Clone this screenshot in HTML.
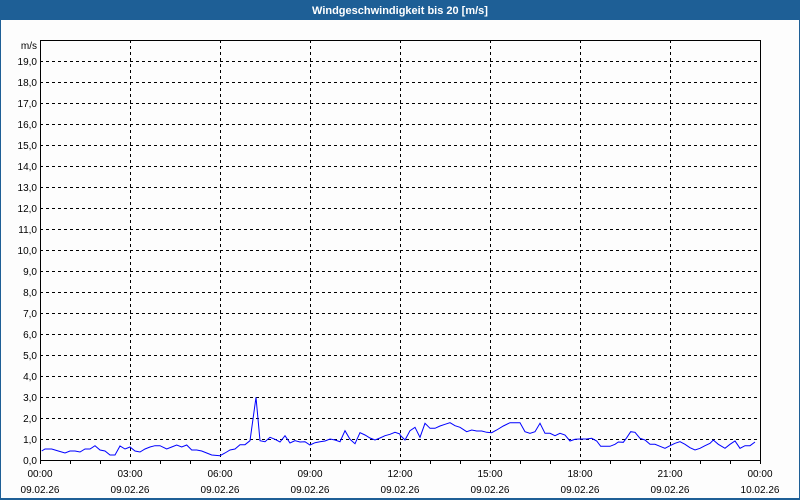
<!DOCTYPE html>
<html><head><meta charset="utf-8"><style>
html,body{margin:0;padding:0;background:#fff}
svg{display:block}
text{font-family:"Liberation Sans","DejaVu Sans",sans-serif;font-size:10px;fill:#000}
</style></head><body>
<svg id="c" width="800" height="500" xmlns="http://www.w3.org/2000/svg">
<rect x="0" y="0" width="800" height="500" fill="#1e5f96"/>
<rect x="1" y="20" width="798" height="478" fill="#fdfdfd"/>
<text x="400" y="14" text-anchor="middle" style="fill:#fff;font-size:11px;font-weight:bold">Windgeschwindigkeit bis 20 [m/s]</text>
<g id="g"></g>
<polyline id="d" fill="none" stroke="#0000ff" stroke-width="1"/>
<rect x="40.5" y="40.5" width="720" height="420" fill="none" stroke="#000"/>
<text x="37" y="49" text-anchor="end">m/s</text>
</svg>
<script>
var g=document.getElementById('g'),ns='http://www.w3.org/2000/svg',h='';
for(var v=0;v<20;v++){var y=460-v*21;
 if(v>0)h+='<line x1="40" x2="760" y1="'+(y+.5)+'" y2="'+(y+.5)+'" stroke="#000" stroke-dasharray="3,3"/>';
 h+='<text x="37" y="'+(y+4)+'" text-anchor="end">'+v+',0</text>';}
var times=['00:00','03:00','06:00','09:00','12:00','15:00','18:00','21:00','00:00'];
for(var i=0;i<=8;i++){var x=40+i*90;
 if(i>0&&i<8)h+='<line x1="'+(x+.5)+'" x2="'+(x+.5)+'" y1="40" y2="460" stroke="#000" stroke-dasharray="3,3"/>';
 h+='<text x="'+x+'" y="477" text-anchor="middle">'+times[i]+'</text>';
 h+='<text x="'+x+'" y="493" text-anchor="middle">'+(i==8?'10.02.26':'09.02.26')+'</text>';}
for(var k=0;k<=24;k++){var x=40+k*30;h+='<line x1="'+(x+.5)+'" x2="'+(x+.5)+'" y1="460" y2="464" stroke="#000"/>';}
g.innerHTML=h;
var a=[[35,213],[45,207],[65,207],[85,213],[105,219],[120,213],[135,213],[150,216],[165,207],[180,207],[195,197],[210,210],[225,213],[240,225],[255,225],[270,198],[285,207],[300,201],[315,213],[330,216],[345,207],[360,201],[375,197],[390,197],[410,207],[425,201],[440,195],[455,201],[470,195],[485,210],[500,210],[515,213],[530,219],[545,225],[570,227],[585,219],[600,210],[615,207],[630,194],[645,194],[660,182],[678,52],[690,182],[705,185],[720,172],[735,178],[750,186],[765,167],[780,189],[795,182],[810,186],[825,185],[840,195],[855,188],[870,185],[885,183],[900,177],[915,180],[930,185],[945,152],[960,178],[975,191],[990,158],[1005,165],[1020,174],[1035,180],[1050,174],[1065,167],[1080,163],[1095,157],[1110,162]];
var b=[[30,165],[45,180],[60,152],[75,142],[90,172],[105,130],[120,145],[135,145],[150,138],[165,133],[180,128],[195,137],[210,142],[230,155],[245,150],[260,153],[275,153],[290,157],[305,158],[320,150],[340,138],[360,128],[390,128],[405,155],[420,160],[435,155],[450,130],[465,160],[480,160],[495,167],[510,160],[525,165],[540,183],[555,178],[570,177],[590,177],[605,175],[620,183],[632,199],[645,199],[660,199],[675,193],[685,186],[700,187],[710,173],[722,155],[735,157],[750,175],[765,180],[780,193],[795,193],[810,199],[825,205],[840,197],[855,190],[870,185],[885,193],[900,203],[915,210],[930,205],[945,197],[960,190],[970,180],[985,193],[1005,205],[1020,193],[1035,183],[1050,205],[1065,197],[1080,197],[1095,186]];
var p=[];
a.forEach(function(q){p.push((30+q[0]/3).toFixed(1)+','+(380+q[1]/3).toFixed(1));});
b.forEach(function(q){p.push((390+q[0]/3).toFixed(1)+','+(380+q[1]/3).toFixed(1));});
document.getElementById('d').setAttribute('points',p.join(' '));
</script>
</body></html>
